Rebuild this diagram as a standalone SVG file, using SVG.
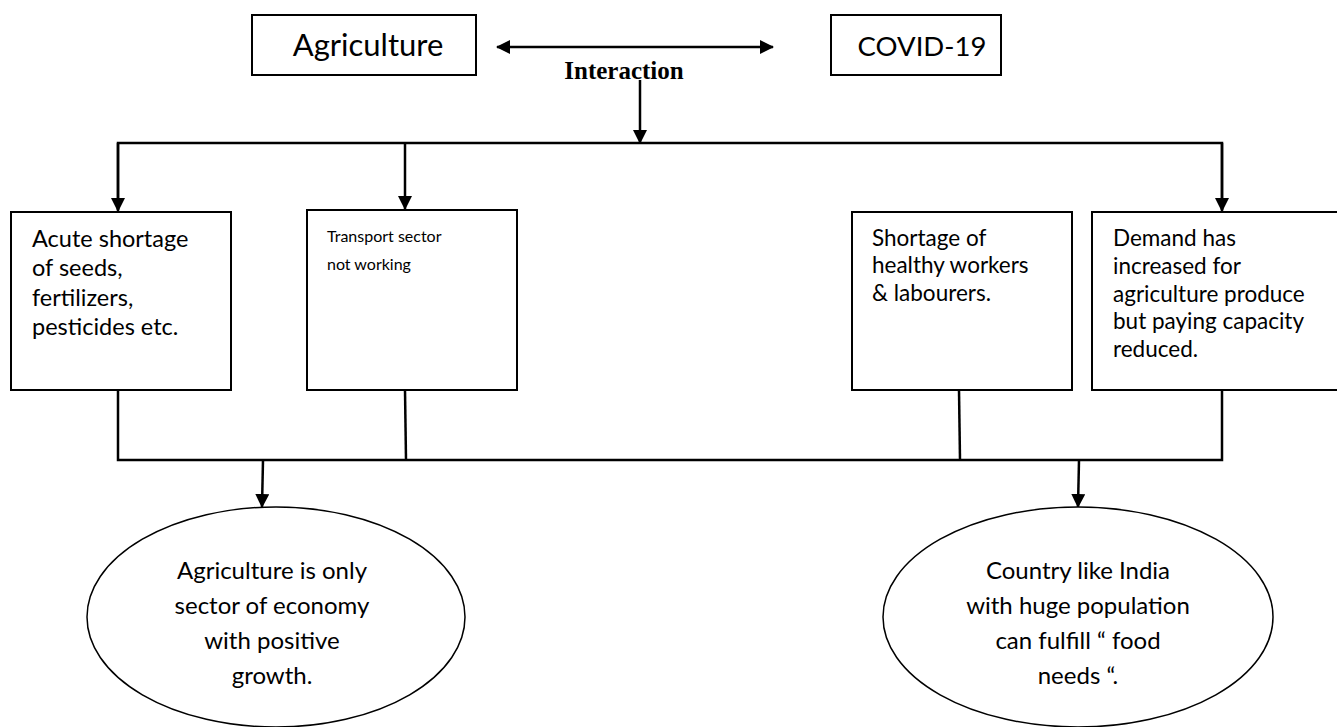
<svg xmlns="http://www.w3.org/2000/svg" width="1337" height="727" viewBox="0 0 1337 727">
<defs>
<marker id="ah" markerWidth="14" markerHeight="14" refX="13" refY="7" orient="auto" markerUnits="userSpaceOnUse">
<path d="M0,0 L14,7 L0,14 Z" fill="#000"/>
</marker>
<marker id="ahs" markerWidth="14" markerHeight="14" refX="1" refY="7" orient="auto" markerUnits="userSpaceOnUse">
<path d="M14,0 L0,7 L14,14 Z" fill="#000"/>
</marker>
<style>
.box{fill:#fff;stroke:#000;stroke-width:2}
.ell{fill:#fff;stroke:#000;stroke-width:1.5}
.ln{fill:none;stroke:#000;stroke-width:2.5}
.t{font-family:Lato,"Liberation Sans",sans-serif;fill:#000}
.mid{font-size:22.5px}
.sm{font-size:16px}
.el{font-size:24px;text-anchor:middle}
.int{font-family:"Liberation Serif",serif;font-weight:bold;font-size:25px;text-anchor:middle}
</style>
</defs>
<rect width="1337" height="727" fill="#fff"/>
<g id="connectors">
<line class="ln" x1="497" y1="47" x2="773" y2="47" marker-start="url(#ahs)" marker-end="url(#ah)"/>
<line class="ln" x1="640" y1="80" x2="640" y2="143" marker-end="url(#ah)"/>
<polyline class="ln" points="118,210 118,143 1222,143 1222,210" />
<line class="ln" x1="118" y1="143" x2="118" y2="211" marker-end="url(#ah)"/>
<line class="ln" x1="405" y1="143" x2="405" y2="209" marker-end="url(#ah)"/>
<line class="ln" x1="1222" y1="143" x2="1222" y2="211" marker-end="url(#ah)"/>
<polyline class="ln" points="118,390 118,460 1222,460 1222,390"/>
<line class="ln" x1="405" y1="390" x2="406" y2="460"/>
<line class="ln" x1="959" y1="390" x2="960" y2="460"/>
<line class="ln" x1="263" y1="460" x2="262" y2="507" marker-end="url(#ah)"/>
<line class="ln" x1="1079" y1="460" x2="1078" y2="507" marker-end="url(#ah)"/>
</g>
<g id="agriculture">
<rect class="box" x="252" y="15" width="224" height="60"/>
<text class="t" x="368" y="56" text-anchor="middle" font-size="31">Agriculture</text>
</g>
<g id="covid">
<rect class="box" x="831" y="15" width="170" height="60"/>
<text class="t" x="922" y="56" text-anchor="middle" font-size="27.5">COVID-19</text>
</g>
<g id="interaction">
<text class="int" x="624" y="79">Interaction</text>
</g>
<g id="n1">
<rect class="box" x="11" y="212" width="220" height="178"/>
<text class="t" font-size="23.5" x="32" y="247">Acute shortage</text>
<text class="t" font-size="23.5" x="32" y="276">of seeds,</text>
<text class="t" font-size="23.5" x="32" y="306">fertilizers,</text>
<text class="t" font-size="23.5" x="32" y="335">pesticides etc.</text>
</g>
<g id="n2">
<rect class="box" x="307" y="210" width="210" height="180"/>
<text class="t sm" x="327" y="242">Transport sector</text>
<text class="t sm" x="327" y="270">not working</text>
</g>
<g id="n3">
<rect class="box" x="852" y="212" width="220" height="178"/>
<text class="t mid" x="872" y="246">Shortage of</text>
<text class="t mid" x="872" y="273">healthy workers</text>
<text class="t mid" x="872" y="301">&amp; labourers.</text>
</g>
<g id="n4">
<rect class="box" x="1092" y="212" width="250" height="178"/>
<text class="t mid" x="1113" y="246">Demand has</text>
<text class="t mid" x="1113" y="274">increased for</text>
<text class="t mid" x="1113" y="302">agriculture produce</text>
<text class="t mid" x="1113" y="329">but paying capacity</text>
<text class="t mid" x="1113" y="357">reduced.</text>
</g>
<g id="e1">
<ellipse class="ell" cx="276" cy="617" rx="189" ry="110"/>
<text class="t el" x="272" y="579">Agriculture is only</text>
<text class="t el" x="272" y="614">sector of economy</text>
<text class="t el" x="272" y="649">with positive</text>
<text class="t el" x="272" y="684">growth.</text>
</g>
<g id="e2">
<ellipse class="ell" cx="1078" cy="617" rx="195" ry="110"/>
<text class="t el" x="1078" y="579">Country like India</text>
<text class="t el" x="1078" y="614">with huge population</text>
<text class="t el" x="1078" y="649">can fulfill “ food</text>
<text class="t el" x="1078" y="684">needs “.</text>
</g>
</svg>
